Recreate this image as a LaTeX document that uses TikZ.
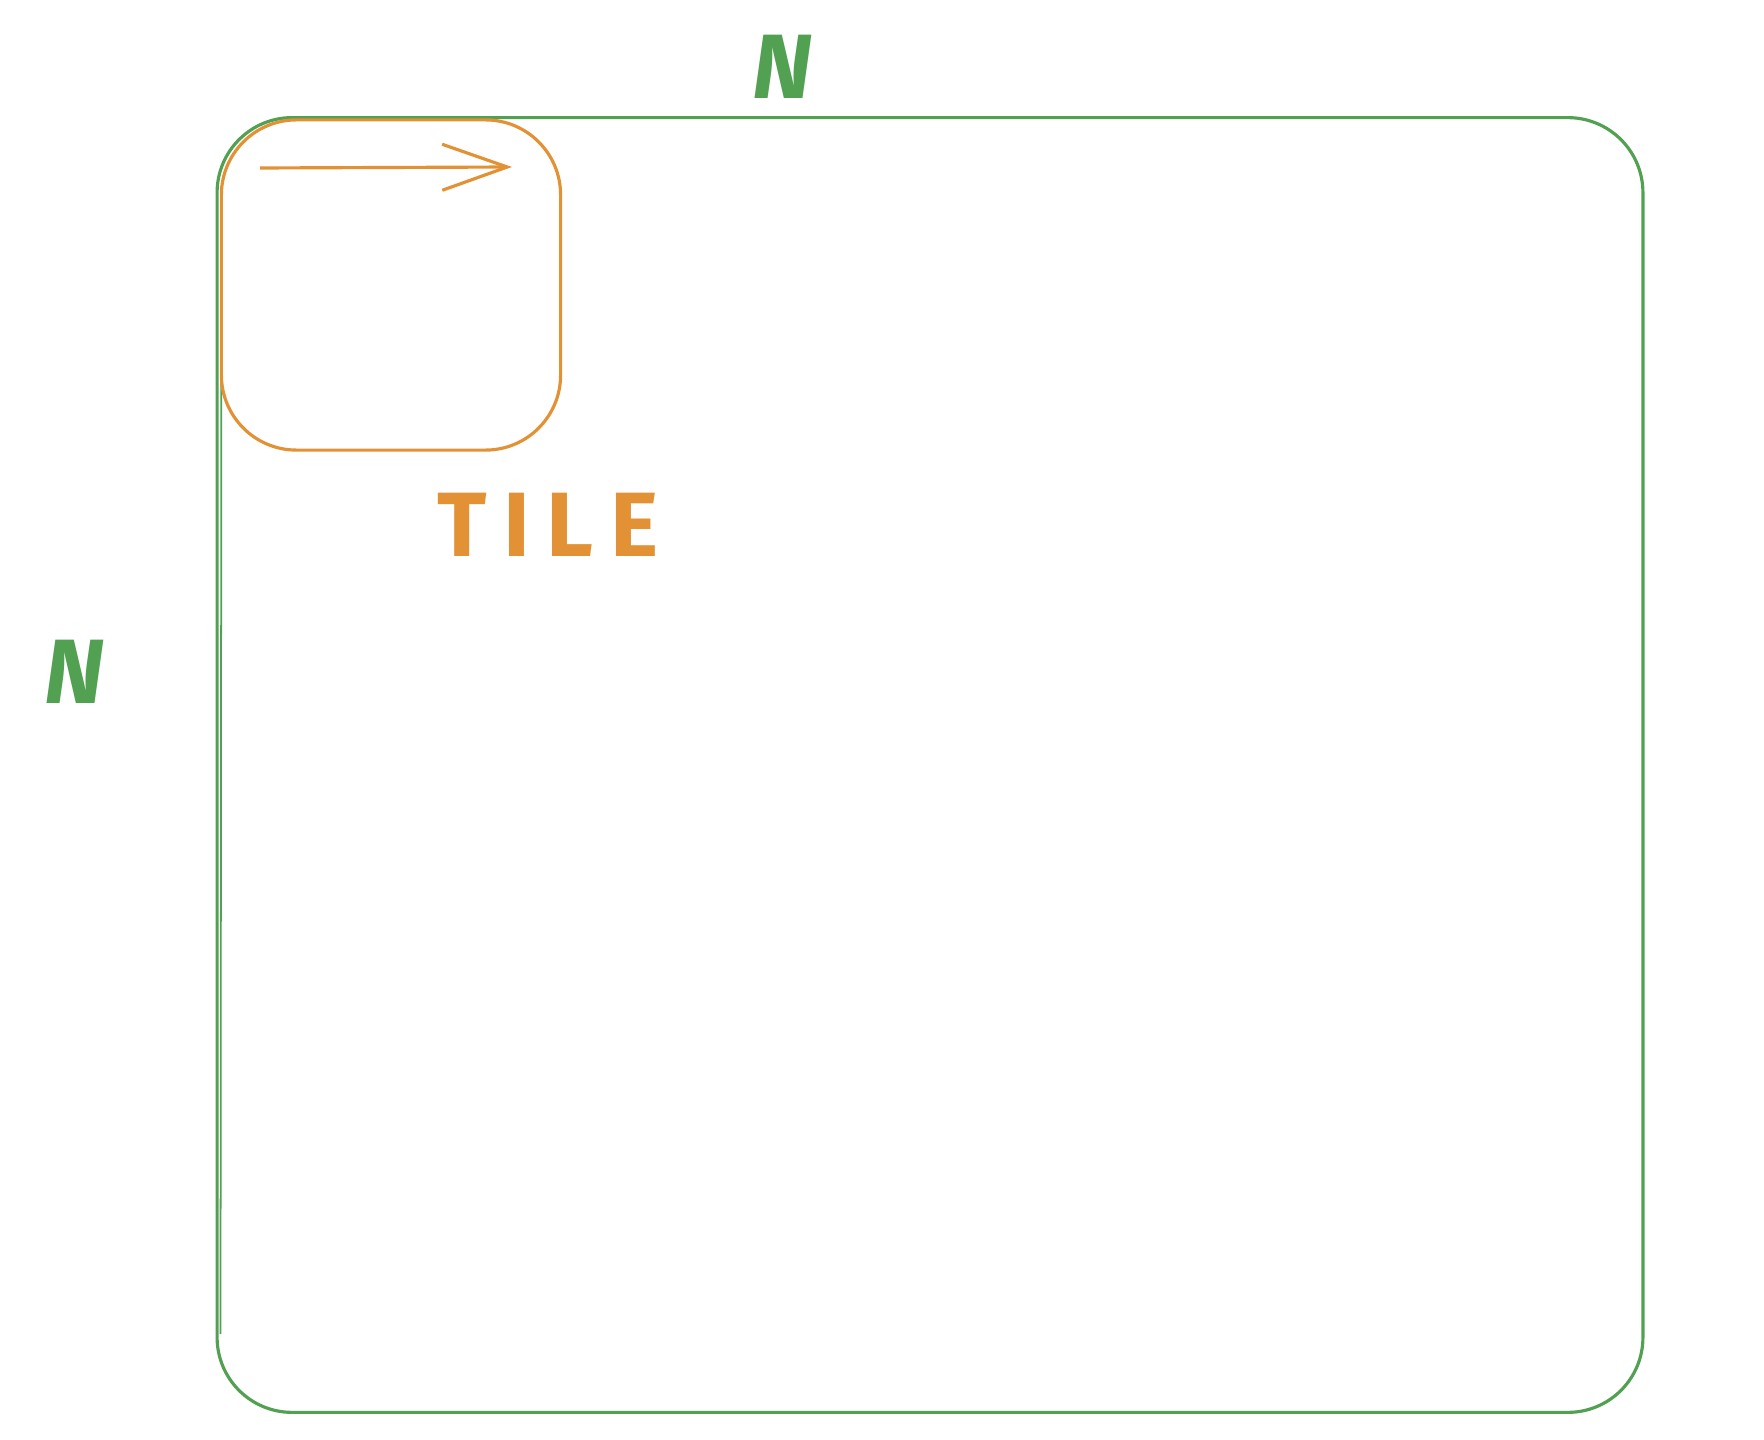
\documentclass[tikz,border=0pt]{standalone}
\usepackage{fontspec}
\setsansfont{Fira Sans}
\usetikzlibrary{positioning,arrows.meta}
\definecolor{sketchgreen}{RGB}{82,160,82}
\definecolor{sketchorange}{RGB}{226,146,52}

\begin{document}
\begin{tikzpicture}[x=0.01cm,y=-0.01cm,
  box/.style={draw,rounded corners=0.75cm,line width=0.9pt,inner sep=0pt},
  dimlbl/.style={text=sketchgreen,font=\sffamily\bfseries\itshape\fontsize{26}{26}\selectfont},
  tilelbl/.style={text=sketchorange,font=\sffamily\bfseries\fontsize{26}{26}\selectfont\addfontfeatures{LetterSpace=18}}]
  \useasboundingbox (0,0) rectangle (1764,1440);
  % the whole N x N grid
  \node[box,sketchgreen,minimum width=14.25cm,minimum height=12.94cm] (grid) at (930,765) {};
  \draw[sketchgreen,line width=0.5pt] ([xshift=0.06cm,yshift=-0.7cm]grid.north west)
    -- ([xshift=0.05cm,yshift=0.8cm]grid.south west);
  % one tile in its corner
  \node[box,sketchorange,minimum width=3.39cm,minimum height=3.30cm] (tile) at (391,285) {};
  \coordinate (from) at (260,168);
  \coordinate (to) at (512,167);
  \draw[sketchorange,line width=0.9pt,-{Straight Barb[length=0.65cm,width=0.46cm]}] (from) -- (to);
  % labels
  \node[dimlbl] (ntop) at (782,67) {N};
  \node[dimlbl] (nleft) at (74,672) {N};
  \node[tilelbl] (tilename) at (548,525) {TILE};
\end{tikzpicture}
\end{document}
